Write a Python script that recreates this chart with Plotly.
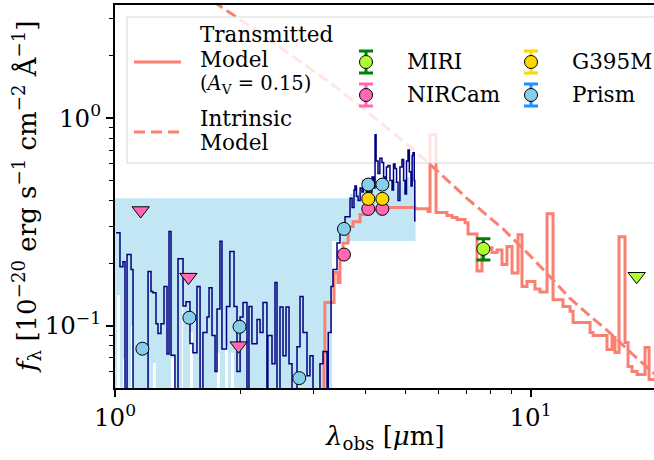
import plotly.graph_objects as go

# ---------------- data ----------------
# NIRSpec prism spectrum: left bin edges [micron], flux [1e-20 erg/s/cm2/A]
prism_wave = [1.006, 1.028, 1.045, 1.057, 1.069, 1.093, 1.105, 1.201, 1.221, 1.234,
              1.255, 1.269, 1.290, 1.312, 1.334, 1.349, 1.364, 1.394, 1.418, 1.458,
              1.482, 1.515, 1.540, 1.575, 1.602, 1.628, 1.665, 1.684, 1.712, 1.741,
              1.760, 1.789, 1.809, 1.855, 1.890, 1.934, 1.966, 2.000, 2.033, 2.078,
              2.101, 2.136, 2.197, 2.234, 2.271, 2.321, 2.333, 2.387, 2.427, 2.454,
              2.495, 2.537, 2.580, 2.623, 2.667, 2.742, 2.788, 2.835, 2.898, 2.946,
              2.996, 3.114, 3.167, 3.238, 3.260, 3.311, 3.347, 3.422, 3.479, 3.578,
              3.678, 3.720, 3.760, 3.781, 3.810, 3.845, 3.890, 3.931, 3.960, 3.997,
              4.030, 4.060, 4.100, 4.155, 4.190, 4.225, 4.250, 4.295, 4.340, 4.391,
              4.430, 4.465, 4.500, 4.540, 4.590, 4.642, 4.680, 4.720, 4.760, 4.799,
              4.850, 4.906, 4.950, 4.988, 5.030, 5.072, 5.110, 5.156, 5.190, 5.214,
              5.250, 5.265, 5.290]
prism_flux = [0.280, 0.192, 0.203, 0.030, 0.220, 0.186, 0.030, 0.182, 0.146, 0.144,
              0.102, 0.0915, 0.102, 0.154, 0.073, 0.284, 0.072, 0.030, 0.210, 0.124,
              0.130, 0.082, 0.074, 0.154, 0.030, 0.0925, 0.110, 0.152, 0.0895, 0.060,
              0.120, 0.2545, 0.077, 0.1235, 0.227, 0.1235, 0.060, 0.110, 0.129, 0.030,
              0.1235, 0.0817, 0.107, 0.0925, 0.129, 0.030, 0.0895, 0.0655, 0.161, 0.030,
              0.1228, 0.0716, 0.1228, 0.0655, 0.030, 0.079, 0.138, 0.0925, 0.0572, 0.0716,
              0.030, 0.0655, 0.075, 0.030, 0.0925, 0.154, 0.186, 0.250, 0.300, 0.334,
              0.410, 0.370, 0.450, 0.470, 0.420, 0.400, 0.460, 0.440, 0.500, 0.460,
              0.420, 0.470, 0.440, 0.520, 0.460, 0.830, 0.620, 0.540, 0.640, 0.610,
              0.520, 0.470, 0.580, 0.590, 0.500, 0.450, 0.600, 0.570, 0.490, 0.400,
              0.580, 0.630, 0.500, 0.430, 0.620, 0.700, 0.550, 0.470, 0.660, 0.680,
              0.500, 0.320, 0.320]

# uncertainty band of the prism spectrum (left bin edges, lower, upper)
band_wave = [0.99, 1.011, 1.028, 1.045, 1.057, 1.093, 1.105, 1.234, 1.255, 1.364,
             1.394, 1.450, 1.458, 1.515, 1.540, 1.760, 1.789, 1.840, 1.871, 1.902,
             1.934, 3.33, 3.678, 3.76, 3.845, 3.96, 4.06, 4.155, 4.225, 4.25,
             4.34, 4.43, 4.50, 4.59, 4.68, 4.76, 4.85, 4.95, 5.03, 5.11,
             5.19, 5.25, 5.29]
band_lo = [0.01, 0.14, 0.01, 0.069, 0.01, 0.10, 0.01, 0.066, 0.01, 0.07,
           0.01, 0.149, 0.01, 0.093, 0.01, 0.074, 0.01, 0.08, 0.01, 0.074,
           0.01, 0.255, 0.255, 0.255, 0.255, 0.255, 0.255, 0.255, 0.255, 0.255,
           0.255, 0.255, 0.255, 0.255, 0.255, 0.255, 0.255, 0.255, 0.255, 0.255,
           0.255, 0.255, 0.255]
band_hi = [0.41, 0.41, 0.41, 0.41, 0.41, 0.41, 0.41, 0.41, 0.41, 0.41,
           0.41, 0.41, 0.41, 0.41, 0.41, 0.41, 0.41, 0.41, 0.41, 0.41,
           0.41, 0.41, 0.43, 0.46, 0.44, 0.47, 0.45, 0.48, 0.52, 0.48,
           0.50, 0.46, 0.50, 0.45, 0.50, 0.45, 0.50, 0.45, 0.52, 0.47,
           0.52, 0.45, 0.45]

# transmitted model (A_V = 0.15), step
model_wave = [3.00, 3.184, 3.20, 3.366, 3.441, 3.479, 3.538, 3.64, 3.74, 3.888,
              3.997, 4.11, 4.39, 5.272, 5.667, 5.730, 5.924, 6.295, 6.475, 6.657,
              6.959, 7.075, 7.434, 7.643, 8.077, 8.305, 8.538, 8.777, 9.027, 9.331,
              9.539, 9.807, 10.25, 10.54, 10.96, 11.33, 11.97, 12.45, 12.66, 13.91,
              14.14, 15.28, 15.71, 15.97, 16.33, 16.88, 17.17, 17.55, 18.05, 18.86,
              19.29, 20.5]
model_flux = [0.03, 0.074, 0.129, 0.18, 0.161, 0.225, 0.25, 0.30, 0.316, 0.343,
              0.352, 0.36, 0.37, 0.365, 0.354, 0.831, 0.350, 0.339, 0.331, 0.324,
              0.313, 0.276, 0.183, 0.237, 0.225, 0.231, 0.197, 0.240, 0.179, 0.274,
              0.154, 0.163, 0.150, 0.145, 0.345, 0.133, 0.1235, 0.117, 0.1034, 0.0925,
              0.0895, 0.0766, 0.0876, 0.0742, 0.268, 0.0828, 0.0635, 0.060, 0.058, 0.0783,
              0.055, 0.055]

# intrinsic model (dashed)
intrinsic_wave = [1.6, 1.77, 2.2, 2.7, 3.29, 4.0, 5.13, 6.0, 7.03, 8.59,
                  9.97, 11.2, 12.45, 14.0, 15.5, 17.5, 19.8, 21.0]
intrinsic_flux = [4.0, 3.51, 2.62, 1.96, 1.48, 1.09, 0.727, 0.55, 0.41, 0.292,
                  0.217, 0.170, 0.135, 0.110, 0.0925, 0.0735, 0.0593, 0.053]

# photometry
nircam_wave = [3.557, 4.07, 4.40]
nircam_flux = [0.2197, 0.3646, 0.3646]
nircam_lim_wave = [1.153, 1.502, 1.983]
nircam_lim_flux = [0.358, 0.171, 0.080]
g395m_wave = [4.07, 4.40]
g395m_flux = [0.4074, 0.4074]
prism_phot_wave = [1.164, 1.51, 1.994, 2.776, 3.557, 4.07, 4.40]
prism_phot_flux = [0.0773, 0.109, 0.0986, 0.0558, 0.292, 0.4775, 0.4775]
miri_wave = [7.70]
miri_flux = [0.234]
miri_err_hi = [0.028]
miri_err_lo = [0.027]
miri_lim_wave = [18.01]
miri_lim_flux = [0.1727]

x_ticks = [1, 10]
x_ticktext = ["10<sup>0</sup>", "10<sup>1</sup>"]
y_ticks = [0.1, 1]
y_ticktext = ["10<sup>\u22121</sup>", "10<sup>0</sup>"]

# ---------------- style ----------------
FONT = "DejaVu Serif"
SALMON = "#FA8072"
NAVY = "#000080"
PINK = "#FF69B4"
GOLD = "#FFD700"
SKY = "#87CEEB"
GY = "#ADFF2F"

X_RANGE = [0, 1.2972]
Y_RANGE = [-1.30103, 0.54407]
PLOT_L, PLOT_T, PLOT_W, PLOT_H = 115, 5, 539, 383


# layout helpers: pixel position -> axis value / paper fraction
def dx(px):
    return 10 ** (X_RANGE[0] + (px - PLOT_L) / PLOT_W * (X_RANGE[1] - X_RANGE[0]))


def dy(py):
    return 10 ** (Y_RANGE[1] - (py - PLOT_T) / PLOT_H * (Y_RANGE[1] - Y_RANGE[0]))


def px_x(px):
    return (px - PLOT_L) / PLOT_W


def px_y(py):
    return (PLOT_T + PLOT_H - py) / PLOT_H


fig = go.Figure()
OV = dict(xaxis="x2", yaxis="y2")

# ---- lower layer (covered by the legend frame) ----
fig.add_trace(go.Scatter(x=band_wave, y=band_lo, mode="lines", line=dict(width=0, shape="hv"),
                         showlegend=False, hoverinfo="skip"))
fig.add_trace(go.Scatter(x=band_wave, y=band_hi, mode="lines", line=dict(width=0, shape="hv"),
                         fill="tonexty", fillcolor="rgba(135,206,235,0.5)",
                         showlegend=False, hoverinfo="skip"))
fig.add_trace(go.Scatter(x=model_wave, y=model_flux, mode="lines",
                         line=dict(color=SALMON, width=3, shape="hv"), showlegend=False))
fig.add_trace(go.Scatter(x=intrinsic_wave, y=intrinsic_flux, mode="lines",
                         line=dict(color=SALMON, width=3, dash="11px,5px"), showlegend=False))
# legend frame (semi-transparent white)
lx0, lx1, ly0, ly1 = dx(127), dx(720), dy(163), dy(17)
fig.add_trace(go.Scatter(x=[lx0, lx1, lx1, lx0, lx0], y=[ly0, ly0, ly1, ly1, ly0],
                         mode="lines", fill="toself", fillcolor="rgba(255,255,255,0.8)",
                         line=dict(color="#d6d6d6", width=1), showlegend=False, hoverinfo="skip"))

# ---- upper layer ----
fig.add_trace(go.Scatter(x=prism_wave, y=prism_flux, mode="lines", **OV,
                         line=dict(color=NAVY, width=1.5, shape="hv"), showlegend=False))

mk_line = dict(color="black", width=1)
fig.add_trace(go.Scatter(x=miri_wave, y=miri_flux, mode="markers", **OV,
                         marker=dict(symbol="circle", size=13, color=GY, line=mk_line),
                         error_y=dict(type="data", array=miri_err_hi, arrayminus=miri_err_lo,
                                      color="green", thickness=3, width=7),
                         showlegend=False))
fig.add_trace(go.Scatter(x=miri_lim_wave, y=miri_lim_flux, mode="markers", **OV,
                         marker=dict(symbol="triangle-down", size=15, color=GY, line=mk_line),
                         showlegend=False))
fig.add_trace(go.Scatter(x=nircam_wave, y=nircam_flux, mode="markers", **OV,
                         marker=dict(symbol="circle", size=13, color=PINK, line=mk_line),
                         showlegend=False))
fig.add_trace(go.Scatter(x=nircam_lim_wave, y=nircam_lim_flux, mode="markers", **OV,
                         marker=dict(symbol="triangle-down", size=15, color=PINK, line=mk_line),
                         showlegend=False))
fig.add_trace(go.Scatter(x=g395m_wave, y=g395m_flux, mode="markers", **OV,
                         marker=dict(symbol="circle", size=13, color=GOLD, line=mk_line),
                         showlegend=False))
fig.add_trace(go.Scatter(x=prism_phot_wave, y=prism_phot_flux, mode="markers", **OV,
                         marker=dict(symbol="circle", size=13, color=SKY, line=mk_line),
                         showlegend=False))

# legend samples
fig.add_trace(go.Scatter(x=[dx(134), dx(181)], y=[dy(62), dy(62)], mode="lines", **OV,
                         line=dict(color=SALMON, width=3), showlegend=False))
fig.add_trace(go.Scatter(x=[dx(134), dx(181)], y=[dy(132), dy(132)], mode="lines", **OV,
                         line=dict(color=SALMON, width=3, dash="11px,6px"), showlegend=False))

leg_entries = [
    ("MIRI", GY, "green", 366, 62),
    ("NIRCam", PINK, PINK, 366, 95),
    ("G395M", GOLD, GOLD, 531, 62),
    ("Prism", SKY, "#1E90FF", 531, 95),
]
for name, fc, ec, mx, my in leg_entries:
    yc = dy(my)
    fig.add_trace(go.Scatter(x=[dx(mx)], y=[yc], mode="markers", **OV,
                             marker=dict(symbol="circle", size=13, color=fc, line=mk_line),
                             error_y=dict(type="data", array=[dy(my - 11) - yc],
                                          arrayminus=[yc - dy(my + 11)], color=ec,
                                          thickness=3, width=7),
                             showlegend=False))

ann_font = dict(family=FONT, size=21.5, color="black")
annotations = []
for txt, py, fs in [("Transmitted", 35, 21.5), ("Model", 59, 21.5),
                    ("(<i>A</i><sub>V</sub> = 0.15)", 84, 19.5),
                    ("Intrinsic", 118, 21.5), ("Model", 142, 21.5)]:
    annotations.append(dict(x=px_x(198), y=px_y(py), xref="paper", yref="paper",
                            xanchor="left", yanchor="middle", showarrow=False,
                            font=dict(family=FONT, size=fs, color="black"), text=txt))
for name, fc, ec, mx, my in leg_entries:
    annotations.append(dict(x=px_x(mx + 39), y=px_y(my), xref="paper", yref="paper",
                            xanchor="left", yanchor="middle", showarrow=False,
                            font=ann_font, text=name))
# axis titles
annotations.append(dict(x=0.5, y=px_y(437), xref="paper", yref="paper", xanchor="center",
                        yanchor="middle", showarrow=False,
                        font=dict(family=FONT, size=26, color="black"),
                        text="<i>λ</i><sub>obs</sub> [<i>μ</i>m]"))
annotations.append(dict(x=px_x(26), y=px_y(197), xref="paper", yref="paper", xanchor="center",
                        yanchor="middle", showarrow=False, textangle=-90,
                        font=dict(family=FONT, size=26, color="black"),
                        text="<i>f</i><sub>λ</sub> [10<sup>\u221220</sup> erg s<sup>\u22121</sup> "
                             "cm<sup>\u22122</sup> Å<sup>\u22121</sup>]"))

axis_common = dict(type="log", showgrid=False, zeroline=False, showline=True, linecolor="black",
                   linewidth=2, ticks="outside", ticklen=7, tickwidth=1.5, tickcolor="black",
                   tickfont=dict(family=FONT, size=24.5, color="black"))

fig.update_layout(
    width=654, height=460,
    margin=dict(l=PLOT_L, r=654 - PLOT_L - PLOT_W, t=PLOT_T, b=460 - PLOT_T - PLOT_H),
    paper_bgcolor="white", plot_bgcolor="white",
    showlegend=False,
    xaxis=dict(**axis_common, range=X_RANGE, mirror=True,
               tickmode="array", tickvals=x_ticks, ticktext=x_ticktext,
               minor=dict(tickmode="array", tickvals=[2, 3, 4, 5, 6, 7, 8, 9, 20],
                          ticks="outside", ticklen=4, tickwidth=1.2, tickcolor="black",
                          showgrid=False)),
    yaxis=dict(**axis_common, range=Y_RANGE, mirror=False,
               tickmode="array", tickvals=y_ticks, ticktext=y_ticktext,
               minor=dict(tickmode="array",
                          tickvals=[0.06, 0.07, 0.08, 0.09, 0.2, 0.3, 0.4, 0.5, 0.6, 0.7, 0.8, 0.9, 2, 3],
                          ticks="outside", ticklen=4, tickwidth=1.2, tickcolor="black",
                          showgrid=False)),
    xaxis2=dict(type="log", overlaying="x", range=X_RANGE, visible=False, anchor="y2"),
    yaxis2=dict(type="log", overlaying="y", range=Y_RANGE, visible=False, anchor="x2"),
    annotations=annotations,
)

fig.write_html("out.html", config={"displayModeBar": False},
               post_script="document.body.style.margin='0px';")
